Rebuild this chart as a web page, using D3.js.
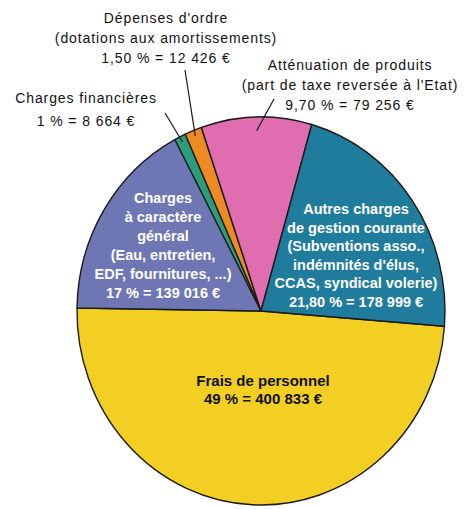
<!DOCTYPE html>
<html>
<head>
<meta charset="utf-8">
<script src="https://cdn.jsdelivr.net/npm/d3@7"></script>
<style>
body { margin: 0; background: #fff; }
svg { display: block; font-family: "Liberation Sans", Arial, Helvetica, sans-serif; }
</style>
</head>
<body>
<svg id="chart" width="467" height="509"></svg>
<script>
// postes de dépenses, dans l'ordre du tracé (sens horaire à partir de la droite)
const categories = ["Frais de personnel", "Charges à caractère général", "Charges financières",
    "Dépenses d'ordre", "Atténuation de produits", "Autres charges de gestion courante"];
const percents = [49, 17, 1, 1.5, 9.7, 21.8];
const amounts = [400833, 139016, 8664, 12426, 79256, 178999];
const labelLines = [
    ["Frais de personnel"],
    ["Charges", "à caractère", "général", "(Eau, entretien,", "EDF, fournitures, ...)"],
    ["Charges financières"],
    ["Dépenses d'ordre", "(dotations aux amortissements)"],
    ["Atténuation de produits", "(part de taxe reversée à l'Etat)"],
    ["Autres charges", "de gestion courante", "(Subventions asso.,", "indémnités d'élus,", "CCAS, syndical volerie)"]
];
const colors = ["#f2cf22", "#6e76b4", "#2b9d7a", "#ee8a24", "#df6db0", "#1f7c9d"];

// mise en page
const cx = 261, cy = 311, R = 184, ky = 194 / 184;
const start = 94.5 * Math.PI / 180;
const layout = [
    { x: 263, y: 386, dy: 18, inside: true, dark: true },
    { x: 163, y: 203, dy: 19, inside: true },
    { x: 86, y: 103, dy: 23, from: [165, 113], r: 0.97 },
    { x: 166, y: 23, dy: 20, from: [185, 70], r: 0.97 },
    { x: 350, y: 70, dy: 20, from: [274, 99], r: 0.93 },
    { x: 356, y: 214, dy: 18.5, inside: true }
];

const fr = d3.formatLocale({ decimal: ",", thousands: "\u00a0", grouping: [3], currency: ["", "\u00a0€"] });
const fmtAmount = fr.format(",d");
const fmtPct = p => Number.isInteger(p) ? String(p) : p.toFixed(2).replace(".", ",");
const valueLine = i => fmtPct(percents[i]) + " % = " + fmtAmount(amounts[i]) + " €";

const svg = d3.select("#chart");

const pie = d3.pie().sort(null).value(d => d)
    .startAngle(start).endAngle(start + 2 * Math.PI);
const arcs = pie(percents);
const arc = d3.arc().innerRadius(0).outerRadius(R);

const g = svg.append("g")
    .attr("transform", "translate(" + cx + "," + cy + ") scale(1," + ky + ")");
g.selectAll("path").data(arcs).enter().append("path")
    .attr("d", arc)
    .attr("fill", (d, i) => colors[i])
    .attr("stroke", "#1b1b1b")
    .attr("stroke-width", 1.4)
    .attr("stroke-linejoin", "round")
    .attr("vector-effect", "non-scaling-stroke");

// traits de rappel vers les petites parts
arcs.forEach((d, i) => {
    const L = layout[i];
    if (!L.from) return;
    const rr = R * L.r;
    const p = d3.arc().innerRadius(rr).outerRadius(rr).centroid(d);
    svg.append("line")
        .attr("x1", L.from[0]).attr("y1", L.from[1])
        .attr("x2", cx + p[0]).attr("y2", cy + p[1] * ky)
        .attr("stroke", "#1b1b1b")
        .attr("stroke-width", 1.2);
});

// étiquettes
categories.forEach((c, i) => {
    const L = layout[i];
    const lines = labelLines[i].concat([valueLine(i)]);
    const t = svg.append("text")
        .attr("text-anchor", "middle")
        .attr("font-size", L.inside ? (L.dark ? 15 : 14.5) : 14)
        .attr("font-weight", L.inside ? "bold" : "normal")
        .attr("letter-spacing", L.inside ? 0 : 0.9)
        .attr("fill", L.inside && !L.dark ? "#fff" : "#111");
    lines.forEach((s, k) => {
        t.append("tspan")
            .attr("x", L.x)
            .attr("y", L.y + k * L.dy)
            .text(s);
    });
});
</script>
</body>
</html>
